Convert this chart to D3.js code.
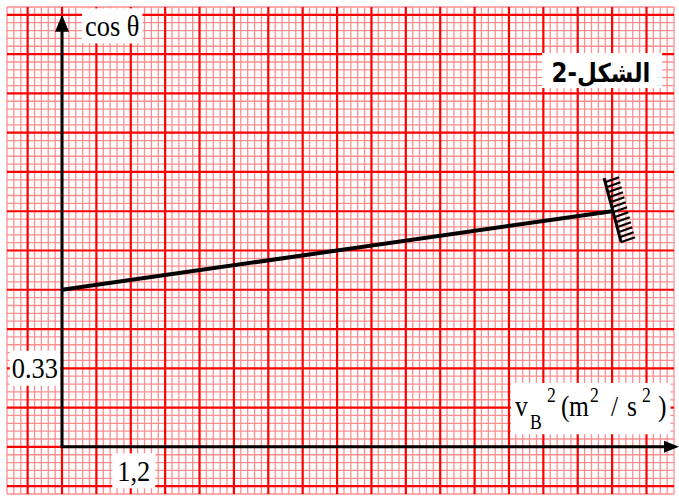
<!DOCTYPE html>
<html>
<head>
<meta charset="utf-8">
<script src="https://cdn.jsdelivr.net/npm/d3@7"></script>
<style>
body { margin:0; background:#ffffff; }
</style>
</head>
<body>
<div id="chart"></div>
<script>
// values
var vB2 = [0, 9.6];
var cosTheta = [0.66, 0.99];
var xTickValues = [1.2];
var xTickLabels = ["1,2"];
var yTickValues = [0.33];
var yTickLabels = ["0.33"];
var xMinorStep = 0.12; // 5 small squares per big one
var yMinorStep = 0.033;

var w= 679;
var h= 501;
var majorColor= "#ff0000";
var minorColor= "#ff8f8f";
var serif= "'Liberation Serif', 'Times New Roman', serif";
var sq= 0.88; // the scan is a bit narrower than tall

var svg= d3.select("#chart")
            .append("svg")
            .attr("width",w)
            .attr("height",h)

svg.append("rect")
    .attr("width","100%")
    .attr("height","100%")
    .attr("fill","#FFFFFF")

var x= d3.scaleLinear().domain([-8*xMinorStep, 89*xMinorStep]).range([7, 674]);
var y= d3.scaleLinear().domain([-6*yMinorStep, 56*yMinorStep]).range([494, 7]);

//graph paper, minor lines first then the major ones on top
var xk= d3.range(-8, 90);
var yk= d3.range(-6, 57);
var grid= svg.append("g").attr("id","grid");

grid.selectAll("line.vminor")
    .data(xk.filter(function(k){return k%5 != 0;}))
    .enter().append("line")
    .attr("class","vminor")
    .attr("x1",function(k){return x(k*xMinorStep);})
    .attr("x2",function(k){return x(k*xMinorStep);})
    .attr("y1",y.range()[1])
    .attr("y2",y.range()[0])
    .attr("stroke",minorColor)
    .attr("stroke-width",1.3)

grid.selectAll("line.hminor")
    .data(yk.filter(function(k){return k%5 != 0;}))
    .enter().append("line")
    .attr("class","hminor")
    .attr("y1",function(k){return y(k*yMinorStep);})
    .attr("y2",function(k){return y(k*yMinorStep);})
    .attr("x1",x.range()[0])
    .attr("x2",x.range()[1])
    .attr("stroke",minorColor)
    .attr("stroke-width",1.3)

grid.selectAll("line.vmajor")
    .data(xk.filter(function(k){return k%5 == 0;}))
    .enter().append("line")
    .attr("class","vmajor")
    .attr("x1",function(k){return x(k*xMinorStep);})
    .attr("x2",function(k){return x(k*xMinorStep);})
    .attr("y1",y.range()[1])
    .attr("y2",y.range()[0])
    .attr("stroke",majorColor)
    .attr("stroke-width",2.2)

grid.selectAll("line.hmajor")
    .data(yk.filter(function(k){return k%5 == 0;}))
    .enter().append("line")
    .attr("class","hmajor")
    .attr("y1",function(k){return y(k*yMinorStep);})
    .attr("y2",function(k){return y(k*yMinorStep);})
    .attr("x1",x.range()[0])
    .attr("x2",x.range()[1])
    .attr("stroke",majorColor)
    .attr("stroke-width",2.2)

//white box behind a text group
function boxIt(g, padX, padY) {
    var b= g.node().getBBox();
    g.insert("rect",":first-child")
        .attr("x",b.x-padX)
        .attr("y",b.y-padY)
        .attr("width",b.width+2*padX)
        .attr("height",b.height+2*padY)
        .attr("fill","#FFFFFF")
}

//axes
var axes= svg.append("g").attr("id","axes");
axes.append("line")
    .attr("x1",x(0)).attr("y1",y(0))
    .attr("x2",x(0)).attr("y2",y(1.815)+16)
    .attr("stroke","black").attr("stroke-width",3)
axes.append("path")
    .attr("d","M"+x(0)+","+y(1.815)+" l-7,17 l14,0 z")
    .attr("fill","black")
axes.append("line")
    .attr("x1",x(0)-1.5).attr("y1",y(0))
    .attr("x2",w-14).attr("y2",y(0))
    .attr("stroke","black").attr("stroke-width",3)
axes.append("path")
    .attr("d","M"+w+","+y(0)+" l-15,-6 l0,12 z")
    .attr("fill","black")

//the measured straight line
var pts= vB2.map(function(d,i){return [d, cosTheta[i]];});
svg.append("path")
    .datum(pts)
    .attr("d",d3.line().x(function(d){return x(d[0]);}).y(function(d){return y(d[1]);}))
    .attr("fill","none")
    .attr("stroke","black")
    .attr("stroke-width",4)

//hatched stop at the end of the line
var ex= x(vB2[1]), ey= y(cosTheta[1]);
var hatch= svg.append("g").attr("transform","translate("+ex+","+ey+")");
hatch.append("line")
    .attr("x1",-8).attr("y1",-33).attr("x2",9).attr("y2",31)
    .attr("stroke","black").attr("stroke-width",3)
hatch.selectAll("line.tick")
    .data(d3.range(13))
    .enter().append("line")
    .attr("class","tick")
    .attr("x1",function(i){return -7+i*1.32;})
    .attr("y1",function(i){return -29+i*5;})
    .attr("x2",function(i){return -7+i*1.32+14;})
    .attr("y2",function(i){return -29+i*5-5;})
    .attr("stroke","black").attr("stroke-width",2.3)

//tick labels
xTickValues.forEach(function(v,i) {
    var g= svg.append("g");
    g.append("text")
        .attr("x",(x(v)+3)/sq)
        .attr("y",y(0)+34)
        .attr("text-anchor","middle")
        .attr("font-family",serif)
        .attr("font-size",30)
        .attr("transform","scale("+sq+",1)")
        .text(xTickLabels[i])
    boxIt(g,5,1)
})
yTickValues.forEach(function(v,i) {
    var g= svg.append("g");
    g.append("text")
        .attr("x",58/sq)
        .attr("y",y(v)+10)
        .attr("text-anchor","end")
        .attr("font-family",serif)
        .attr("font-size",30)
        .attr("transform","scale("+sq+",1)")
        .text(yTickLabels[i])
    boxIt(g,2,1)
})

//axis titles
var yTitle= svg.append("g");
yTitle.append("text")
    .attr("x",85/sq).attr("y",36)
    .attr("font-family",serif).attr("font-size",30)
    .attr("transform","scale("+sq+",1)")
    .text("cos θ")
boxIt(yTitle,3,1)

var xTitle= svg.append("g");
var xt= xTitle.append("text")
    .attr("font-family",serif)
    .attr("transform","scale("+sq+",1)");
var parts= [
    {t:"v", x:515, y:416, s:29},
    {t:"B", x:530, y:429, s:20},
    {t:"2", x:547, y:402, s:20},
    {t:"(", x:561, y:416, s:29},
    {t:"m", x:569, y:416, s:29},
    {t:"2", x:590, y:402, s:20},
    {t:"/", x:611, y:416, s:29},
    {t:"s", x:627, y:416, s:29},
    {t:"2", x:642, y:402, s:20},
    {t:")", x:658, y:416, s:29}
];
parts.forEach(function(p) {
    xt.append("tspan").attr("x",p.x/sq).attr("y",p.y).attr("font-size",p.s).text(p.t)
})
boxIt(xTitle,4,1)

//figure caption
var cap= svg.append("g");
cap.append("rect")
    .attr("x",542).attr("y",53)
    .attr("width",120).attr("height",35)
    .attr("fill","#FFFFFF")
cap.append("text")
    .attr("x",601/sq).attr("y",82)
    .attr("text-anchor","middle")
    .attr("font-family","'DejaVu Sans', sans-serif")
    .attr("font-weight","bold")
    .attr("font-size",26)
    .attr("transform","scale("+sq+",1)")
    .text("الشكل-2")
</script>
</body>
</html>
